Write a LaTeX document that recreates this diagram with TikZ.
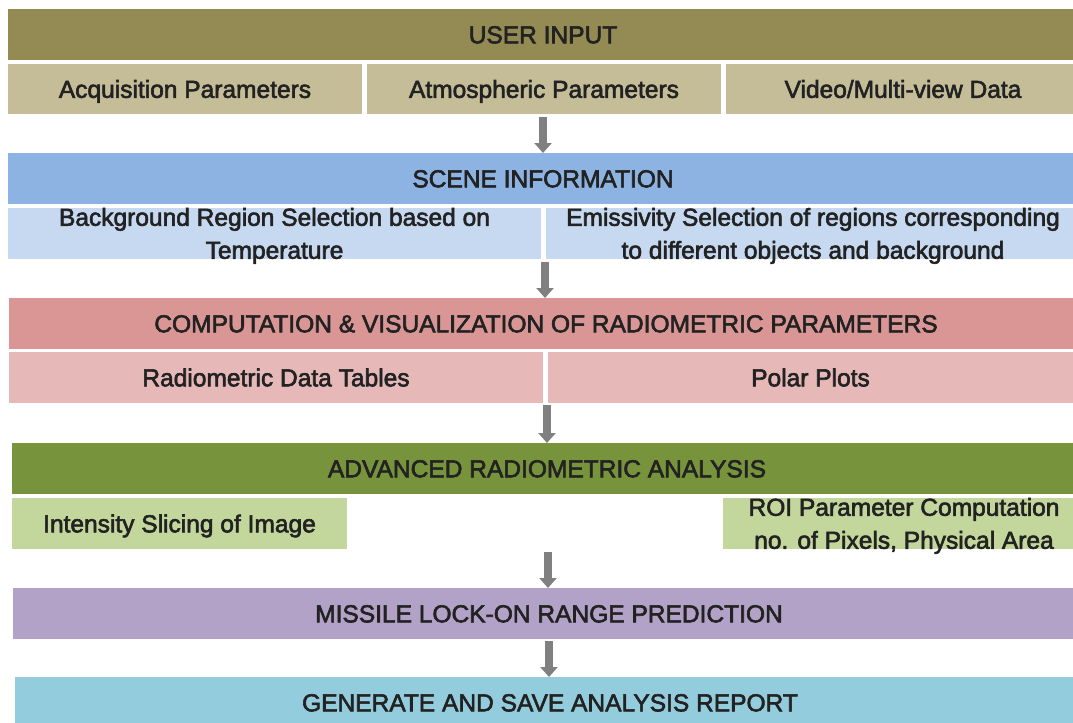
\documentclass[tikz,border=0pt]{standalone}
\usepackage{fontspec}
\setmainfont[FakeBold=2.4]{Liberation Sans}
\usepackage{xcolor}
\usetikzlibrary{arrows.meta}

\definecolor{inputdark}{HTML}{948A54}
\definecolor{inputlight}{HTML}{C4BD97}
\definecolor{scenedark}{HTML}{8DB3E2}
\definecolor{scenelight}{HTML}{C6D9F1}
\definecolor{compdark}{HTML}{D99694}
\definecolor{complight}{HTML}{E6B9B8}
\definecolor{advdark}{HTML}{77933C}
\definecolor{advlight}{HTML}{C3D69B}
\definecolor{missilefill}{HTML}{B3A2C7}
\definecolor{reportfill}{HTML}{93CDDD}
\definecolor{arrowgray}{HTML}{808080}
\definecolor{textgray}{HTML}{222222}

\tikzset{
  band/.style={rectangle, inner sep=0pt, outer sep=0pt, anchor=north west,
    minimum height=51*0.75pt, text=textgray,
    text height=13.2pt, text depth=0pt,
    font=\fontsize{18.4}{24.75}\selectfont},
  bandtext/.style={inner sep=0pt, text=textgray, align=center,
    font=\fontsize{18.4}{24.75}\selectfont},
  flow/.style={draw=arrowgray, line width=6pt,
    -{Triangle[width=12.75pt,length=7.5pt]}}
}

\begin{document}
\begin{tikzpicture}[x=0.75pt, y=-0.75pt]
\clip (0,0) rectangle (1073,722);
% user input
\node[band, fill=inputdark, minimum width=1070*0.75pt] (input) at (8,9) {USER INPUT};
\node[band, fill=inputlight, minimum width=354*0.75pt, minimum height=50*0.75pt] (acq) at (8,64) {Acquisition Parameters};
\node[band, fill=inputlight, minimum width=354*0.75pt, minimum height=50*0.75pt] (atm) at (367,64) {Atmospheric Parameters};
\node[band, fill=inputlight, minimum width=354*0.75pt, minimum height=50*0.75pt] (video) at (726,64) {Video/Multi-view Data};
% scene information
\node[band, fill=scenedark, minimum width=1070*0.75pt] (scene) at (8,153) {SCENE INFORMATION};
\node[band, fill=scenelight, minimum width=533*0.75pt] (backgr) at (8,208) {};
\node[bandtext] (backgrtext) at ([yshift=-1.8pt]backgr.center) {Background Region Selection based on\\Temperature};
\node[band, fill=scenelight, minimum width=534*0.75pt] (emiss) at (546,208) {};
\node[bandtext] (emisstext) at ([yshift=-1.8pt]emiss.center) {Emissivity Selection of regions corresponding\\to different objects and background};
% computation
\node[band, fill=compdark, minimum width=1074*0.75pt] (comp) at (9,298) {COMPUTATION \& VISUALIZATION OF RADIOMETRIC PARAMETERS};
\node[band, fill=complight, minimum width=534*0.75pt] (tables) at (9,352) {Radiometric Data Tables};
\node[band, fill=complight, minimum width=525*0.75pt] (polar) at (548,352) {Polar Plots};
% advanced analysis
\node[band, fill=advdark, minimum width=1070*0.75pt] (adv) at (12,443) {ADVANCED RADIOMETRIC ANALYSIS};
\node[band, fill=advlight, minimum width=335*0.75pt] (slicing) at (12,498) {Intensity Slicing of Image};
\node[band, fill=advlight, minimum width=362*0.75pt] (roi) at (723,498) {};
\node[bandtext] (roitext) at ([yshift=-1.8pt]roi.center) {ROI Parameter Computation\\no. of Pixels, Physical Area};
% prediction and report
\node[band, fill=missilefill, minimum width=1072*0.75pt] (missile) at (13,588) {MISSILE LOCK-ON RANGE PREDICTION};
\node[band, fill=reportfill, minimum width=1070*0.75pt] (report) at (15,677) {GENERATE AND SAVE ANALYSIS REPORT};
% arrows
\coordinate (a1) at (543,117);
\coordinate (a2) at (545,262);
\coordinate (a3) at (547,405);
\coordinate (a4) at (548,552);
\coordinate (a5) at (549,641);
\draw[flow] (a1) -- (a1 |- scene.north);
\draw[flow] (a2) -- (a2 |- comp.north);
\draw[flow] (a3) -- (a3 |- adv.north);
\draw[flow] (a4) -- (a4 |- missile.north);
\draw[flow] (a5) -- (a5 |- report.north);
\end{tikzpicture}
\end{document}
